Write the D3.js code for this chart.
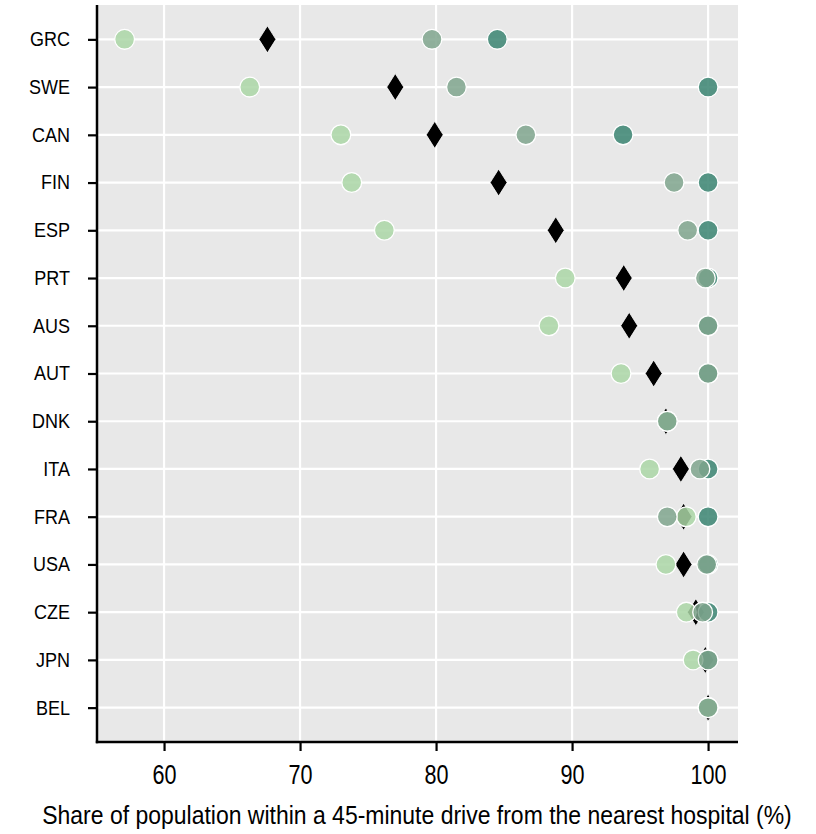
<!DOCTYPE html>
<html>
<head>
<meta charset="utf-8">
<script src="https://cdn.jsdelivr.net/npm/d3@7"></script>
<style>
  html, body { margin: 0; padding: 0; background: #ffffff; }
  svg { display: block; }
  text { font-family: "Liberation Sans Narrow", "Arial Narrow", "Liberation Sans", Arial, sans-serif; fill: #000; }
</style>
</head>
<body>
<svg id="chart" width="816" height="834"></svg>
<script>
// ---- data ----
const countries = ["GRC","SWE","CAN","FIN","ESP","PRT","AUS","AUT","DNK","ITA","FRA","USA","CZE","JPN","BEL"];
const ruralShare        = [57.1, 66.3, 73.0, 73.8, 76.2, 89.5, 88.3, 93.6, 97.0, 95.7, 98.4, 96.9, 98.4, 98.9, 100];
const intermediateShare = [79.7, 81.5, 86.6, 97.5, 98.5, 99.8, 100, 100, 97.0, 99.4, 97.0, 99.9, 99.6, 100, 100];
const urbanShare        = [84.5, 100, 93.75, 100, 100, 100, 100, 100, 97.0, 100, 100, 100, 100, 100, 100];
const nationalShare     = [67.6, 77.0, 79.9, 84.6, 88.8, 93.8, 94.2, 96.0, 96.9, 98.0, 98.2, 98.2, 99.1, 99.8, 100];
const xTicks = [60, 70, 80, 90, 100];
const xLabel = "Share of population within a 45-minute drive from the nearest hospital (%)";

// ---- layout ----
const svg = d3.select("#chart");
const plot = { left: 97, right: 738, top: 5, bottom: 742 };

const x = d3.scaleLinear().domain([55.07, 102.2]).range([plot.left, plot.right]);
const y = d3.scalePoint().domain(countries).range([plot.top, plot.bottom]).padding(0.72);

// background
svg.append("rect")
  .attr("x", plot.left).attr("y", plot.top)
  .attr("width", plot.right - plot.left).attr("height", plot.bottom - plot.top)
  .attr("fill", "#e8e8e8");

// grid
const grid = svg.append("g");
grid.selectAll("line.v").data(xTicks).join("line")
  .attr("x1", d => x(d)).attr("x2", d => x(d))
  .attr("y1", plot.top).attr("y2", plot.bottom)
  .attr("stroke", "#ffffff").attr("stroke-width", 2.2);
grid.selectAll("line.h").data(countries).join("line")
  .attr("x1", plot.left).attr("x2", plot.right)
  .attr("y1", d => y(d)).attr("y2", d => y(d))
  .attr("stroke", "#ffffff").attr("stroke-width", 2.2);

// national average diamonds (drawn under circles)
const diamond = "M0,-13.5 L8.5,0 L0,13.5 L-8.5,0 Z";
svg.append("g").selectAll("path").data(countries).join("path")
  .attr("d", diamond)
  .attr("transform", (d, i) => `translate(${x(nationalShare[i])},${y(d)})`)
  .attr("fill", "#000000")
  .attr("stroke", "#ffffff").attr("stroke-width", 0.8);

// circle series
const series = [
  { values: urbanShare,        color: "#3a8471" },
  { values: ruralShare,        color: "#aad6a6" },
  { values: intermediateShare, color: "#7fa58d" }
];
series.forEach(s => {
  svg.append("g").selectAll("circle").data(countries).join("circle")
    .attr("cx", (d, i) => x(s.values[i]))
    .attr("cy", d => y(d))
    .attr("r", 9.9)
    .attr("fill", s.color)
    .attr("fill-opacity", 0.85)
    .attr("stroke", "#ffffff").attr("stroke-width", 1.3);
});

// axes
const xAxis = d3.axisBottom(x).tickValues(xTicks).tickFormat(d3.format("d"))
  .tickSize(9).tickSizeOuter(0).tickPadding(14);
const gx = svg.append("g").attr("transform", `translate(0,${plot.bottom})`).call(xAxis);
gx.select(".domain").remove();
gx.selectAll(".tick line").attr("stroke", "#000").attr("stroke-width", 2.2);
gx.selectAll(".tick text")
  .attr("font-size", 27)
  .attr("dy", "0.71em")
  .attr("transform", "scale(0.8,1)")
  .style("font-family", null);

const yAxis = d3.axisLeft(y).tickSize(9).tickSizeOuter(0).tickPadding(17);
const gy = svg.append("g").attr("transform", `translate(${plot.left},0)`).call(yAxis);
gy.select(".domain").remove();
gy.selectAll(".tick line").attr("stroke", "#000").attr("stroke-width", 2.2);
gy.selectAll(".tick text")
  .attr("font-size", 20)
  .attr("x", 0)
  .attr("transform", "translate(-27,0) scale(0.9,1)")
  .style("font-family", null);

// spines
svg.append("line").attr("x1", plot.left).attr("x2", plot.left)
  .attr("y1", plot.top).attr("y2", plot.bottom + 1.2)
  .attr("stroke", "#000").attr("stroke-width", 2.5);
svg.append("line").attr("x1", plot.left - 1.2).attr("x2", plot.right)
  .attr("y1", plot.bottom).attr("y2", plot.bottom)
  .attr("stroke", "#000").attr("stroke-width", 2.5);

// x label (condensed horizontally to mimic a narrow typeface)
const labelG = svg.append("g");
const label = labelG.append("text")
  .attr("x", 0).attr("y", 0)
  .attr("text-anchor", "middle")
  .attr("font-size", 25)
  .text(xLabel);
const natural = label.node().getComputedTextLength();
const sx = Math.min(1, 750 / natural);
labelG.attr("transform", `translate(417,824) scale(${sx},1)`);
</script>
</body>
</html>
